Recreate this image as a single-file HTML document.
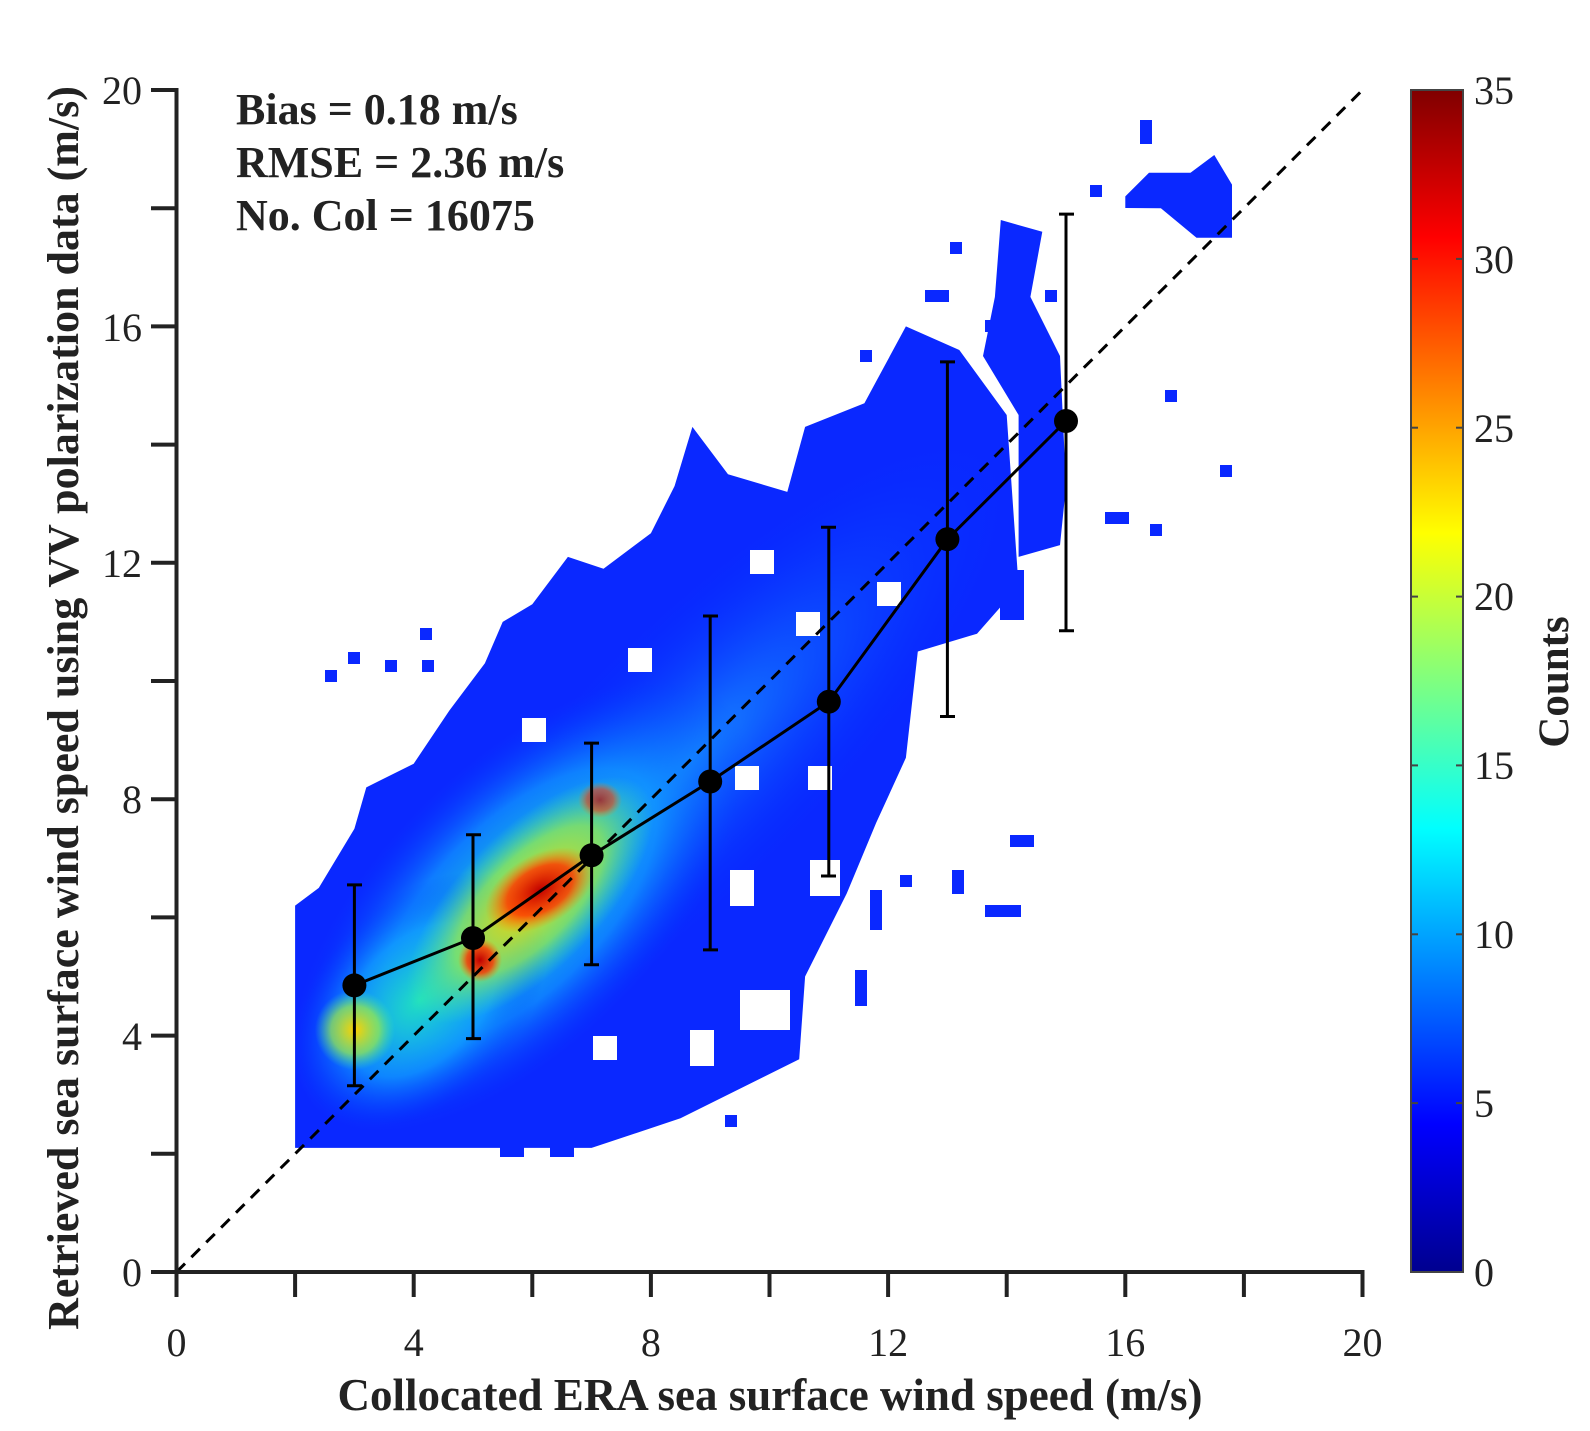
<!DOCTYPE html>
<html><head><meta charset="utf-8"><style>
html,body{margin:0;padding:0;background:#fff;}
svg{display:block;font-family:"Liberation Serif",serif;}
</style></head><body>
<svg width="1590" height="1431" viewBox="0 0 1590 1431" xmlns="http://www.w3.org/2000/svg">
<defs>
<linearGradient id="jet" x1="0" y1="1" x2="0" y2="0">
<stop offset="0" stop-color="#00008f"/>
<stop offset="0.125" stop-color="#0000ff"/>
<stop offset="0.375" stop-color="#00ffff"/>
<stop offset="0.625" stop-color="#ffff00"/>
<stop offset="0.875" stop-color="#ff0000"/>
<stop offset="1" stop-color="#800000"/>
</linearGradient>
<radialGradient id="g1"><stop offset="0" stop-color="#20e0c0" stop-opacity="1"/><stop offset="0.6" stop-color="#10a0ff" stop-opacity="0.7"/><stop offset="1" stop-color="#0040ff" stop-opacity="0"/></radialGradient>
<radialGradient id="g2"><stop offset="0" stop-color="#ffd000" stop-opacity="1"/><stop offset="0.6" stop-color="#a0f040" stop-opacity="0.7"/><stop offset="1" stop-color="#40f0a0" stop-opacity="0"/></radialGradient>
<radialGradient id="g3"><stop offset="0" stop-color="#c00000" stop-opacity="1"/><stop offset="0.6" stop-color="#ff3000" stop-opacity="0.8"/><stop offset="1" stop-color="#ff8000" stop-opacity="0"/></radialGradient>
<radialGradient id="g4"><stop offset="0" stop-color="#1890ff" stop-opacity="0.9"/><stop offset="1" stop-color="#0030ff" stop-opacity="0"/></radialGradient>
<clipPath id="cp"><polygon points="295.1,1147.9 591.6,1147.9 680.5,1118.3 799.2,1059.2 805.1,976.5 846.6,893.8 876.2,822.8 905.9,757.8 917.8,651.5 977,633.7 1018.6,586.4 1006.7,415 959.3,350 905.9,326.4 864.4,403.2 805.1,426.9 787.3,491.9 728,474.2 692.4,426.9 674.6,486 650.9,533.3 603.5,568.7 567.9,556.9 532.3,604.2 502.7,621.9 484.9,663.3 449.3,710.6 413.7,763.7 366.3,787.4 354.4,828.8 318.8,887.9 295.1,905.6"/></clipPath>
</defs>
<g fill="#0a28ff">
<polygon points="295.1,1147.9 591.6,1147.9 680.5,1118.3 799.2,1059.2 805.1,976.5 846.6,893.8 876.2,822.8 905.9,757.8 917.8,651.5 977,633.7 1018.6,586.4 1006.7,415 959.3,350 905.9,326.4 864.4,403.2 805.1,426.9 787.3,491.9 728,474.2 692.4,426.9 674.6,486 650.9,533.3 603.5,568.7 567.9,556.9 532.3,604.2 502.7,621.9 484.9,663.3 449.3,710.6 413.7,763.7 366.3,787.4 354.4,828.8 318.8,887.9 295.1,905.6"/>
<polygon points="1018.6,556.9 1060,545.1 1066,486 1060,356 1030.4,296.9 1042.3,231.8 1000.8,220 994.9,296.9 983,356 1018.6,415"/>
<polygon points="1125.3,196.4 1149,172.7 1190.5,172.7 1214.3,155 1232,184.6 1232,237.8 1196.5,237.8 1160.9,208.2 1125.3,208"/>
<rect x="348" y="652" width="12" height="12"/><rect x="325" y="670" width="12" height="12"/>
<rect x="420" y="628" width="12" height="12"/><rect x="385" y="660" width="12" height="12"/><rect x="422" y="660" width="12" height="12"/>
<rect x="1140" y="120" width="12" height="24"/><rect x="1165" y="390" width="12" height="12"/><rect x="1220" y="465" width="12" height="12"/>
<rect x="1150" y="524" width="12" height="12"/><rect x="1105" y="512" width="24" height="12"/><rect x="1010" y="835" width="24" height="12"/>
<rect x="985" y="905" width="36" height="12"/><rect x="952" y="870" width="12" height="24"/><rect x="900" y="875" width="12" height="12"/>
<rect x="870" y="890" width="12" height="40"/><rect x="855" y="970" width="12" height="36"/><rect x="725" y="1115" width="12" height="12"/>
<rect x="950" y="242" width="12" height="12"/><rect x="925" y="290" width="24" height="12"/><rect x="1045" y="290" width="12" height="12"/>
<rect x="1010" y="280" width="12" height="60"/><rect x="985" y="320" width="24" height="12"/><rect x="1090" y="185" width="12" height="12"/>
<rect x="1000" y="570" width="24" height="50"/><rect x="860" y="350" width="12" height="12"/><rect x="500" y="1145" width="24" height="12"/><rect x="550" y="1145" width="24" height="12"/>
</g>
<g clip-path="url(#cp)">
<ellipse cx="690" cy="760" rx="440" ry="130" transform="rotate(-45 690 760)" fill="url(#g4)"/>
<ellipse cx="520" cy="905" rx="290" ry="140" transform="rotate(-45 520 905)" fill="url(#g1)"/>
<ellipse cx="420" cy="1000" rx="150" ry="100" transform="rotate(-45 420 1000)" fill="url(#g1)"/>
<ellipse cx="530" cy="900" rx="160" ry="70" transform="rotate(-45 530 900)" fill="url(#g2)"/>
<ellipse cx="355" cy="1030" rx="40" ry="40" fill="url(#g2)"/>
<ellipse cx="540" cy="890" rx="60" ry="35" transform="rotate(-30 540 890)" fill="url(#g3)"/>
<ellipse cx="600" cy="800" rx="22" ry="18" fill="url(#g3)" opacity="0.7"/>
<ellipse cx="480" cy="960" rx="22" ry="22" fill="url(#g3)"/>
</g>
<g fill="#fff">
<rect x="522" y="718" width="24" height="24"/><rect x="628" y="648" width="24" height="24"/>
<rect x="750" y="550" width="24" height="24"/><rect x="796" y="612" width="24" height="24"/>
<rect x="735" y="766" width="24" height="24"/><rect x="808" y="766" width="24" height="24"/>
<rect x="593" y="1036" width="24" height="24"/><rect x="690" y="1030" width="24" height="36"/>
<rect x="730" y="870" width="24" height="36"/><rect x="877" y="582" width="24" height="24"/>
<rect x="740" y="990" width="50" height="40"/><rect x="810" y="860" width="30" height="36"/>
</g>
<line x1="176.5" y1="1272" x2="1362.5" y2="90" stroke="#000" stroke-width="3" stroke-dasharray="12,9"/>
<g stroke="#222" stroke-width="4" fill="none">
<polyline points="151,90 176.5,90 176.5,1272 1362.5,1272 1362.5,1297"/>
<line x1="151" y1="208.2" x2="176.5" y2="208.2"/><line x1="151" y1="326.4" x2="176.5" y2="326.4"/>
<line x1="151" y1="444.6" x2="176.5" y2="444.6"/><line x1="151" y1="562.8" x2="176.5" y2="562.8"/>
<line x1="151" y1="681" x2="176.5" y2="681"/><line x1="151" y1="799.2" x2="176.5" y2="799.2"/>
<line x1="151" y1="917.4" x2="176.5" y2="917.4"/><line x1="151" y1="1035.6" x2="176.5" y2="1035.6"/>
<line x1="151" y1="1153.8" x2="176.5" y2="1153.8"/><line x1="151" y1="1272" x2="176.5" y2="1272"/>
<line x1="176.5" y1="1272" x2="176.5" y2="1297"/><line x1="295.1" y1="1272" x2="295.1" y2="1297"/>
<line x1="413.7" y1="1272" x2="413.7" y2="1297"/><line x1="532.3" y1="1272" x2="532.3" y2="1297"/>
<line x1="650.9" y1="1272" x2="650.9" y2="1297"/><line x1="769.5" y1="1272" x2="769.5" y2="1297"/>
<line x1="888.1" y1="1272" x2="888.1" y2="1297"/><line x1="1006.7" y1="1272" x2="1006.7" y2="1297"/>
<line x1="1125.3" y1="1272" x2="1125.3" y2="1297"/><line x1="1243.9" y1="1272" x2="1243.9" y2="1297"/>
</g>
<g stroke="#000" stroke-width="3" fill="none">
<polyline points="354.4,985.4 473,938.1 591.6,855.3 710.2,781.5 828.8,701.7 947.4,539.2 1066,421"/>
<path d="M354.4,1085.8V884.9M347,1085.8h15M347,884.9h15"/>
<path d="M473,1038.6V834.7M466,1038.6h15M466,834.7h15"/>
<path d="M591.6,964.7V743.1M584,964.7h15M584,743.1h15"/>
<path d="M710.2,949.9V616M703,949.9h15M703,616h15"/>
<path d="M828.8,876V527.3M821,876h15M821,527.3h15"/>
<path d="M947.4,716.5V361.9M940,716.5h15M940,361.9h15"/>
<path d="M1066,630.8V214.1M1059,630.8h15M1059,214.1h15"/>
</g>
<g fill="#000">
<circle cx="354.4" cy="985.4" r="12"/><circle cx="473" cy="938.1" r="12"/><circle cx="591.6" cy="855.3" r="12"/>
<circle cx="710.2" cy="781.5" r="12"/><circle cx="828.8" cy="701.7" r="12"/><circle cx="947.4" cy="539.2" r="12"/><circle cx="1066" cy="421" r="12"/>
</g>
<g font-size="40" fill="#222">
<text x="176.5" y="1356" text-anchor="middle">0</text>
<text x="413.7" y="1356" text-anchor="middle">4</text>
<text x="650.9" y="1356" text-anchor="middle">8</text>
<text x="888.1" y="1356" text-anchor="middle">12</text>
<text x="1125.3" y="1356" text-anchor="middle">16</text>
<text x="1362.5" y="1356" text-anchor="middle">20</text>
<text x="142" y="1286" text-anchor="end">0</text>
<text x="142" y="1050" text-anchor="end">4</text>
<text x="142" y="813" text-anchor="end">8</text>
<text x="142" y="577" text-anchor="end">12</text>
<text x="142" y="341" text-anchor="end">16</text>
<text x="142" y="104" text-anchor="end">20</text>
</g>
<g font-weight="bold" fill="#222">
<text x="770" y="1410" text-anchor="middle" font-size="45">Collocated ERA sea surface wind speed (m/s)</text>
<text transform="translate(78,708) rotate(-90)" text-anchor="middle" font-size="44">Retrieved sea surface wind speed using VV polarization data (m/s)</text>
<text x="236" y="124" font-size="44">Bias = 0.18 m/s</text>
<text x="236" y="177" font-size="44">RMSE = 2.36 m/s</text>
<text x="236" y="230" font-size="44">No. Col = 16075</text>
<text transform="translate(1568,682) rotate(-90)" text-anchor="middle" font-size="43">Counts</text>
</g>
<rect x="1411" y="90" width="52" height="1182" fill="url(#jet)" stroke="#444" stroke-width="2"/>
<g stroke="#444" stroke-width="2">
<line x1="1411" y1="1103.1" x2="1418" y2="1103.1"/><line x1="1456" y1="1103.1" x2="1463" y2="1103.1"/>
<line x1="1411" y1="934.3" x2="1418" y2="934.3"/><line x1="1456" y1="934.3" x2="1463" y2="934.3"/>
<line x1="1411" y1="765.4" x2="1418" y2="765.4"/><line x1="1456" y1="765.4" x2="1463" y2="765.4"/>
<line x1="1411" y1="596.6" x2="1418" y2="596.6"/><line x1="1456" y1="596.6" x2="1463" y2="596.6"/>
<line x1="1411" y1="427.7" x2="1418" y2="427.7"/><line x1="1456" y1="427.7" x2="1463" y2="427.7"/>
<line x1="1411" y1="258.9" x2="1418" y2="258.9"/><line x1="1456" y1="258.9" x2="1463" y2="258.9"/>
</g>
<g font-size="40" fill="#222">
<text x="1474" y="1286">0</text>
<text x="1474" y="1117">5</text>
<text x="1474" y="948">10</text>
<text x="1474" y="779">15</text>
<text x="1474" y="610">20</text>
<text x="1474" y="442">25</text>
<text x="1474" y="273">30</text>
<text x="1474" y="104">35</text>
</g>
</svg>
</body></html>
